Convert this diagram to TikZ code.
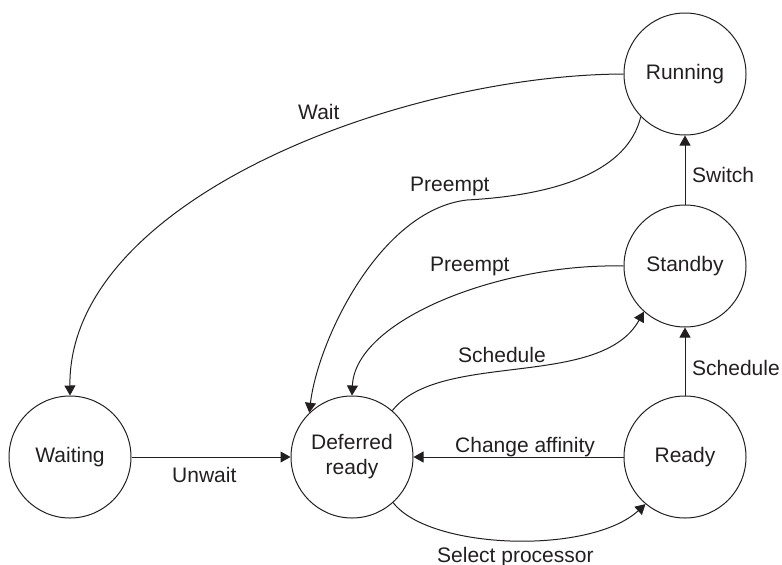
\documentclass[tikz,border=0pt]{standalone}
\usepackage{fontspec}
\setmainfont{Liberation Sans}
\usetikzlibrary{arrows.meta}
\definecolor{ink}{HTML}{231F20}
\newcommand{\statefont}{\fontsize{21}{25}\selectfont}
\newcommand{\edgefont}{\fontsize{21}{25}\selectfont}
\tikzset{
  statecircle/.style={circle, draw=ink, line width=1pt, minimum size=122pt,
    inner sep=0pt, align=center, text=ink, font=\statefont},
  trans/.style={draw=ink, line width=1pt, -{Triangle[length=10pt,width=11pt]}},
  edgelabel/.style={anchor=base west, inner sep=0pt, text=ink, font=\edgefont}
}
\begin{document}
\begin{tikzpicture}[x=1pt,y=-1pt]
  \useasboundingbox (0,0) rectangle (782,565);

  % States
  \node[statecircle] (running)  at (685,74)  {Running};
  \node[statecircle] (standby)  at (685,266) {Standby};
  \node[statecircle] (ready)    at (685,457) {Ready};
  \node[statecircle] (deferred) at (352,457) {Deferred\\ready};
  \node[statecircle] (waiting)  at (70,457)  {Waiting};

  % Straight transitions
  \draw[trans] (standby.north) -- (running.south);
  \draw[trans] (ready.north) -- (standby.south);
  \draw[trans] (ready.west) -- (deferred.east);
  \draw[trans] (waiting.east) -- (deferred.west);

  % Curved transitions
  \draw[trans] (running.west) .. controls (400,75) and (68,200) .. (waiting.north);
  \draw[trans] (running.224) .. controls (628,170) and (560,195) .. (467,200)
                             .. controls (380,210) and (318,340) .. (deferred.134);
  \draw[trans] (standby.west) .. controls (500,263) and (355,320) .. (deferred.north);
  \draw[trans] (deferred.49) .. controls (440,350) and (600,390) .. (standby.228);
  \draw[trans] (deferred.312) .. controls (430,550) and (590,555) .. (ready.230);

  % Labels
  \node[edgelabel] (lwait)     at (298,119) {Wait};
  \node[edgelabel] (lpreemptA) at (410,191) {Preempt};
  \node[edgelabel] (lpreemptB) at (430,271) {Preempt};
  \node[edgelabel] (lschedA)   at (458,362) {Schedule};
  \node[edgelabel] (laffinity) at (455,452) {Change affinity};
  \node[edgelabel] (lselect)   at (437,562) {Select processor};
  \node[edgelabel] (lunwait)   at (172,482) {Unwait};
  \node[edgelabel] (lswitch)   at (692,182) {Switch};
  \node[edgelabel] (lschedB)   at (692,375) {Schedule};
\end{tikzpicture}
\end{document}
